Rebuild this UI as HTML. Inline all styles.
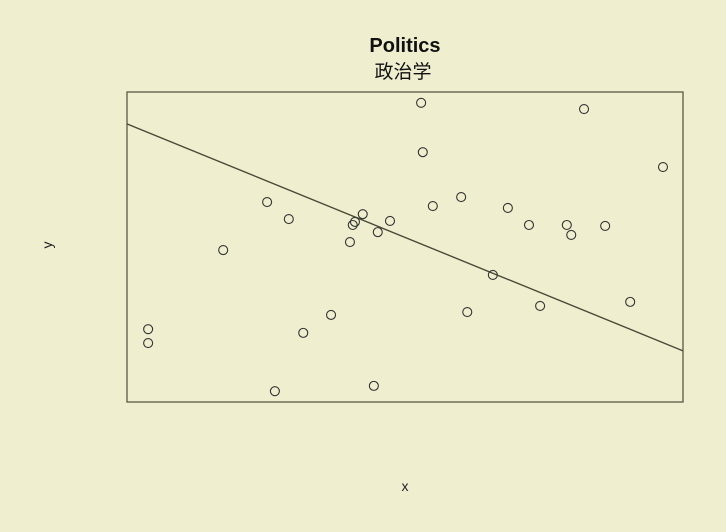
<!DOCTYPE html>
<html><head><meta charset="utf-8"><style>
html,body{margin:0;padding:0;background:#efefd0;}
svg{display:block;}
</style></head><body>
<svg id="chart" width="726" height="532" viewBox="0 0 726 532" xmlns="http://www.w3.org/2000/svg">
<rect x="0" y="0" width="726" height="532" fill="#efefd0"/>
<text x="405" y="52" text-anchor="middle" font-family="Liberation Sans, sans-serif" font-weight="bold" font-size="20" fill="#111">Politics</text>
<text x="403" y="78" text-anchor="middle" font-family="Liberation Sans, Noto Sans CJK SC, sans-serif" font-size="19" fill="#111">政治学</text>
<rect x="127" y="92" width="556" height="310" fill="none" stroke="#5a5a45" stroke-width="1.3"/>
<text x="52" y="245" text-anchor="middle" font-family="Liberation Sans, sans-serif" font-size="14" fill="#222" transform="rotate(-90 52 245)">y</text>
<text x="405" y="491" text-anchor="middle" font-family="Liberation Sans, sans-serif" font-size="14" fill="#222">x</text>
<g id="marks"></g>
</svg>
<script>
const xs=[52.9,82.2,53.2,96.4,25.2,29.1,17.3,60.1,55.0,68.5,42.4,47.3,41.0,40.6,45.1,40.1,72.3,79.1,79.9,86.0,65.8,74.3,90.5,61.2,36.7,31.7,3.8,3.8,26.6,44.4];
const ys=[96.5,94.5,80.6,75.8,64.5,59.0,49.0,66.1,63.2,62.6,60.6,58.4,58.1,57.1,54.8,51.6,57.1,57.1,53.9,56.8,41.0,31.0,32.3,29.0,28.1,22.3,23.5,19.0,3.5,5.2];
const fitIntercept=89.7;
const fitSlope=-0.732;
const X0=127,X1=683,Y0=402,Y1=92;
function sx(v){return X0+(v/100)*(X1-X0);}
function sy(v){return Y0-(v/100)*(Y0-Y1);}
const NS='http://www.w3.org/2000/svg';
const g=document.getElementById('marks');
const ln=document.createElementNS(NS,'line');


ln.setAttribute('x1',sx(0));ln.setAttribute('y1',sy(fitIntercept));
ln.setAttribute('x2',sx(100));ln.setAttribute('y2',sy(fitIntercept+fitSlope*100));
ln.setAttribute('stroke','#4a4a38');ln.setAttribute('stroke-width','1.4');
g.appendChild(ln);
for(let i=0;i<xs.length;i++){
const c=document.createElementNS(NS,'circle');


c.setAttribute('cx',sx(xs[i]));c.setAttribute('cy',sy(ys[i]));c.setAttribute('r','4.5');
c.setAttribute('fill','none');c.setAttribute('stroke','#333');c.setAttribute('stroke-width','1.1');
g.appendChild(c);
}
</script>
</body></html>
